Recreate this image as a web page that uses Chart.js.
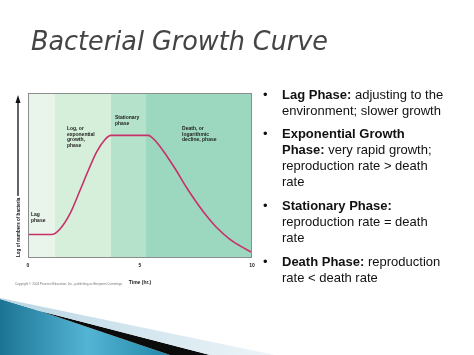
<!DOCTYPE html>
<html><head><meta charset="utf-8">
<script src="https://cdn.jsdelivr.net/npm/chart.js@4/dist/chart.umd.min.js"></script>
<style>html,body{margin:0;padding:0;background:#fff;overflow:hidden}</style>
</head><body>
<canvas id="c" width="474" height="355"></canvas>
<script>
// ---- data ----
const timeHours   = [0, 0.5, 1.05, 1.43, 1.87, 2.32, 2.69, 3.06, 3.43, 3.7, 4.5, 5.36, 5.74, 6.18, 6.62, 7.07, 7.52, 7.96, 8.41, 9.0, 9.45, 10];
const logBacteria = [1.42, 1.42, 1.42, 1.76, 2.67, 4.09, 5.3, 6.42, 7.17, 7.43, 7.43, 7.43, 7.02, 6.21, 5.3, 4.29, 3.38, 2.57, 1.86, 1.15, 0.75, 0.34];
const phaseBounds = [0, 1.2, 3.7, 5.27, 10];
const phaseLabels = [["Lag", "phase"], ["Log, or", "exponential", "growth,", "phase"], ["Stationary", "phase"], ["Death, or", "logarithmic", "decline, phase"]];
const xTicks = [0, 5, 10];
const chartTitle = "Bacterial Growth Curve";
const bulletItems = [
  [["Lag Phase:", " adjusting to the"], ["", "environment; slower growth"]],
  [["Exponential Growth", ""], ["Phase:", " very rapid growth;"], ["", "reproduction rate > death"], ["", "rate"]],
  [["Stationary Phase:", ""], ["", "reproduction rate = death"], ["", "rate"]],
  [["Death Phase:", " reproduction"], ["", "rate < death rate"]]
];

// ---- styles ----
const phaseColors = ["#e9f5eb", "#d6efda", "#b5e2cb", "#9cd8bf"];
const labelOffsets = [[3, 215], [12, 129], [4, 118], [36, 129]];
const bulletTops = [95, 134, 206, 262];

function richLine(ctx, x, y, parts, size) {
  ctx.font = "bold " + size + "px 'Liberation Sans', Arial, sans-serif";
  ctx.fillText(parts[0], x, y);
  const w = ctx.measureText(parts[0]).width;
  ctx.font = size + "px 'Liberation Sans', Arial, sans-serif";
  ctx.fillText(parts[1], x + w, y);
}

const deco = {
  id: 'deco',
  beforeDatasetsDraw(chart) {
    const {ctx, chartArea: a, scales: {x}} = chart;
    ctx.save();
    for (let i = 0; i < phaseColors.length; i++) {
      const x0 = x.getPixelForValue(phaseBounds[i]);
      const x1 = x.getPixelForValue(phaseBounds[i + 1]);
      ctx.fillStyle = phaseColors[i];
      ctx.fillRect(x0, a.top, x1 - x0, a.bottom - a.top);
    }
    ctx.restore();
  },
  afterDraw(chart) {
    const {ctx, chartArea: a, scales: {x}} = chart;
    ctx.save();
    // title
    ctx.fillStyle = "#444444"; ctx.textBaseline = "alphabetic"; ctx.textAlign = "left";
    ctx.font = "italic 27px 'DejaVu Sans', sans-serif";
    const tw = ctx.measureText(chartTitle).width;
    ctx.save(); ctx.translate(31, 50); ctx.scale(297 / tw, 1);
    ctx.fillText(chartTitle, 0, 0);
    ctx.restore();
    // border
    ctx.strokeStyle = "#8c8c8c"; ctx.lineWidth = 1;
    ctx.strokeRect(a.left + 0.5, a.top + 0.5, a.right - a.left - 1, a.bottom - a.top - 1);
    // phase labels
    ctx.fillStyle = "#222"; ctx.font = "bold 5px 'Liberation Sans', Arial, sans-serif";
    ctx.textBaseline = "middle"; ctx.textAlign = "left";
    phaseLabels.forEach((lines, i) => {
      const px = x.getPixelForValue(phaseBounds[i]) + labelOffsets[i][0];
      lines.forEach((t, j) => ctx.fillText(t, px, labelOffsets[i][1] + j * 5.5));
    });
    // y arrow and label
    ctx.strokeStyle = "#111"; ctx.fillStyle = "#111"; ctx.lineWidth = 1.3;
    ctx.beginPath(); ctx.moveTo(18, 196); ctx.lineTo(18, 101); ctx.stroke();
    ctx.beginPath(); ctx.moveTo(18, 95); ctx.lineTo(15.5, 103); ctx.lineTo(20.5, 103); ctx.closePath(); ctx.fill();
    ctx.save(); ctx.translate(18, 257); ctx.rotate(-Math.PI / 2);
    ctx.font = "bold 4.6px 'Liberation Sans', Arial, sans-serif"; ctx.textAlign = "left";
    ctx.fillText("Log of numbers of bacteria", 0, 0.5);
    ctx.restore();
    // copyright
    ctx.fillStyle = "#777"; ctx.font = "3.1px 'Liberation Sans', Arial, sans-serif";
    ctx.fillText("Copyright \u00a9 2004 Pearson Education, Inc., publishing as Benjamin Cummings", 15, 284);
    // bullets
    ctx.fillStyle = "#111"; ctx.textBaseline = "middle";
    bulletItems.forEach((item, i) => {
      ctx.font = "13px 'Liberation Sans', Arial, sans-serif";
      ctx.fillText("\u2022", 263, bulletTops[i]);
      item.forEach((parts, j) => richLine(ctx, 282, bulletTops[i] + j * 16, parts, 13));
    });
    // swoosh
    const g = ctx.createLinearGradient(0, 0, 175, 0);
    g.addColorStop(0, "#1c7494"); g.addColorStop(0.5, "#54b4d4"); g.addColorStop(1, "#1d84a6");
    ctx.fillStyle = g;
    ctx.beginPath(); ctx.moveTo(0, 299); ctx.lineTo(43, 312); ctx.lineTo(170, 355); ctx.lineTo(0, 355); ctx.closePath(); ctx.fill();
    ctx.fillStyle = "#0b0b0b";
    ctx.beginPath(); ctx.moveTo(40, 311); ctx.lineTo(210, 355); ctx.lineTo(170, 355); ctx.closePath(); ctx.fill();
    const g2 = ctx.createLinearGradient(0, 0, 275, 0);
    g2.addColorStop(0, "#b9d6e4"); g2.addColorStop(1, "#eef5f9");
    ctx.fillStyle = g2;
    ctx.beginPath(); ctx.moveTo(0, 298); ctx.lineTo(275, 355); ctx.lineTo(210, 355); ctx.lineTo(40, 311); ctx.lineTo(0, 299); ctx.closePath(); ctx.fill();
    ctx.restore();
  }
};

new Chart(document.getElementById('c'), {
  type: 'line',
  data: {
    datasets: [{
      data: timeHours.map((t, i) => ({x: t, y: logBacteria[i]})),
      borderColor: "#c8306a", borderWidth: 1.6, pointRadius: 0,
      cubicInterpolationMode: 'monotone', fill: false
    }]
  },
  options: {
    responsive: false, animation: false,
    layout: {padding: {left: 28, right: 222, top: 93, bottom: 69}},
    plugins: {legend: {display: false}, tooltip: {enabled: false}, title: {display: false}},
    scales: {
      x: {
        type: 'linear', min: 0, max: 10,
        afterBuildTicks: s => { s.ticks = xTicks.map(v => ({value: v})); },
        grid: {display: false, drawTicks: false}, border: {display: false},
        ticks: {color: "#222", font: {size: 5, weight: 'bold', family: "'Liberation Sans', Arial"}, padding: 5, maxRotation: 0},
        title: {display: true, text: "Time (hr.)", color: "#222", font: {size: 5, weight: 'bold', family: "'Liberation Sans', Arial"}, padding: {top: 6, bottom: 0}}
      },
      y: {display: false, min: 0, max: 10}
    }
  },
  plugins: [deco]
});
</script>
</body></html>
